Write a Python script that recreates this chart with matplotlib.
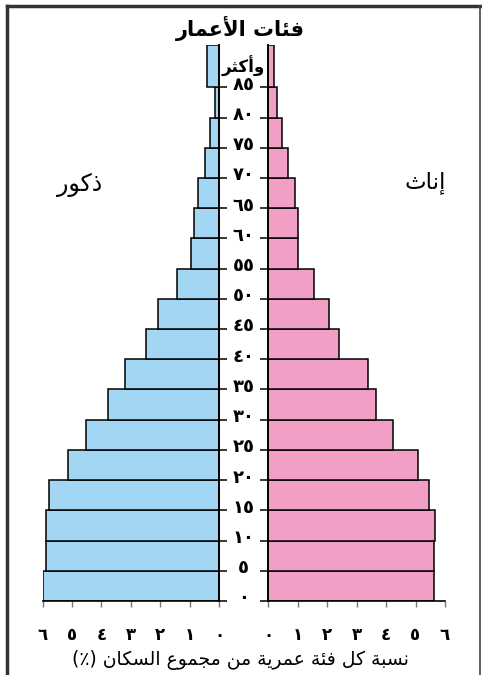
import matplotlib
matplotlib.use('Agg')
import matplotlib.pyplot as plt
from matplotlib.lines import Line2D
from matplotlib.transforms import blended_transform_factory

# Data (percent of total population)
age_lower = [0, 5, 10, 15, 20, 25, 30, 35, 40, 45, 50, 55, 60, 65, 70, 75, 80, 85]
group_span = [5, 5, 5, 5, 5, 5, 5, 5, 5, 5, 5, 5, 5, 5, 5, 5, 5, 7]
male = [6.0, 5.88, 5.88, 5.8, 5.13, 4.52, 3.77, 3.2, 2.5, 2.06, 1.42, 0.95, 0.84, 0.7, 0.48, 0.29, 0.12, 0.4]
female = [5.64, 5.64, 5.66, 5.47, 5.07, 4.24, 3.66, 3.38, 2.41, 2.07, 1.55, 1.02, 1.02, 0.9, 0.68, 0.45, 0.28, 0.2]
pct_ticks = [0, 1, 2, 3, 4, 5, 6]

title_txt = 'فئات الأعمار'
male_txt = 'ذكور'
female_txt = 'إناث'
top_group_txt = 'وأكثر'
xlabel_txt = 'نسبة كل فئة عمرية من مجموع السكان (٪)'

# --- minimal Arabic shaping (matplotlib has no bidi / joining) ---
AR_LETTERS = 'ءآأؤإئابةتثجحخدذرزسشصضطظعغفقكلمنهوىي'
TWO_FORM = set('آأؤإادذرزةوى')
FORMS = {}
code = 0xFE80
for ch in AR_LETTERS:
    n = 1 if ch == 'ء' else (2 if ch in TWO_FORM else 4)
    FORMS[ch] = [chr(code + k) for k in range(n)]
    code += n
LAM_ALEF = {'آ': 0xFEF5, 'أ': 0xFEF7, 'إ': 0xFEF9, 'ا': 0xFEFB}


def joins_left(c):
    return c in FORMS and len(FORMS[c]) == 4


def joins_right(c):
    return c in FORMS and len(FORMS[c]) > 1


def ar(text):
    out = []
    i = 0
    while i < len(text):
        ch = text[i]
        if ch not in FORMS:
            out.append(ch)
            i += 1
            continue
        prev = text[i - 1] if i > 0 else ''
        nxt = text[i + 1] if i + 1 < len(text) else ''
        p = joins_left(prev) and joins_right(ch)
        if ch == 'ل' and nxt in LAM_ALEF:
            out.append(chr(LAM_ALEF[nxt] + (1 if p else 0)))
            i += 2
            continue
        n = joins_left(ch) and joins_right(nxt)
        idx = 3 if (p and n) else 1 if p else 2 if n else 0
        out.append(FORMS[ch][idx])
        i += 1
    vis = ''.join(out)[::-1]
    return vis.translate(str.maketrans('()', ')('))


def ar_num(v):
    return str(v).translate(str.maketrans('0123456789', '٠١٢٣٤٥٦٧٨٩'))


plt.rcParams['font.family'] = ['DejaVu Sans']

blue = '#a3d6f3'
pink = '#f19fc6'

W, H = 482, 675
fig = plt.figure(figsize=(W / 100, H / 100), dpi=100)

y0, y1 = 601, 45
bottom = (H - y0) / H
height = (y0 - y1) / H
axL = fig.add_axes([42.7 / W, bottom, (219 - 42.7) / W, height])
axR = fig.add_axes([268.3 / W, bottom, (445 - 268.3) / W, height])

axL.barh(age_lower, male, height=group_span, align='edge',
         color=blue, edgecolor='black', linewidth=1.1)
axR.barh(age_lower, female, height=group_span, align='edge',
         color=pink, edgecolor='black', linewidth=1.1)

top = age_lower[-1] + group_span[-1]
for ax in (axL, axR):
    ax.set_ylim(0, top)
    ax.set_xticks(pct_ticks)
    ax.set_xticklabels([ar_num(t) for t in pct_ticks], fontsize=12, fontweight='bold')
    ax.tick_params(axis='x', direction='out', length=4, width=1, color='#777777', pad=14)
    ax.spines['top'].set_visible(False)
    ax.spines['bottom'].set_linewidth(1.2)
    ax.set_yticks(age_lower)
    ax.tick_params(axis='y', labelleft=False, labelright=False, length=6, width=1.1)

axL.set_xlim(6, 0)
axL.spines['left'].set_visible(False)
axL.spines['right'].set_linewidth(1.4)
axL.yaxis.tick_right()
axL.tick_params(axis='y', labelright=False)

axR.set_xlim(0, 6)
axR.spines['right'].set_visible(False)
axR.spines['left'].set_linewidth(1.4)

# age labels in the gap between the two halves
tr = blended_transform_factory(fig.transFigure, axL.transData)
xc = 243.5 / W
for a in age_lower:
    axL.text(xc, a - 0.4, ar_num(a), transform=tr, ha='center', va='baseline',
             fontsize=13, fontweight='bold')
axL.text(xc, age_lower[-1] + group_span[-1] / 2, ar(top_group_txt), transform=tr,
         ha='center', va='center', fontsize=12, fontweight='bold')

fig.text(240 / W, 1 - 28 / H, ar(title_txt), ha='center', va='center',
         fontsize=15, fontweight='bold')
fig.text(80 / W, 1 - 185 / H, ar(male_txt), ha='center', va='center', fontsize=17)
fig.text(425 / W, 1 - 183 / H, ar(female_txt), ha='center', va='center', fontsize=16.5)
fig.text(240 / W, 1 - 660 / H, ar(xlabel_txt), ha='center', va='center', fontsize=13.5)

# frame around the figure
fig.add_artist(Line2D([7 / W, 7 / W], [0, 1 - 6 / H], transform=fig.transFigure,
                      color='#333333', linewidth=2.5))
fig.add_artist(Line2D([7 / W, 480 / W], [1 - 6 / H, 1 - 6 / H], transform=fig.transFigure,
                      color='#333333', linewidth=2.5))
fig.add_artist(Line2D([479.5 / W, 479.5 / W], [0, 1 - 6 / H], transform=fig.transFigure,
                      color='#444444', linewidth=1.2))

fig.savefig('out.png', dpi=100)
